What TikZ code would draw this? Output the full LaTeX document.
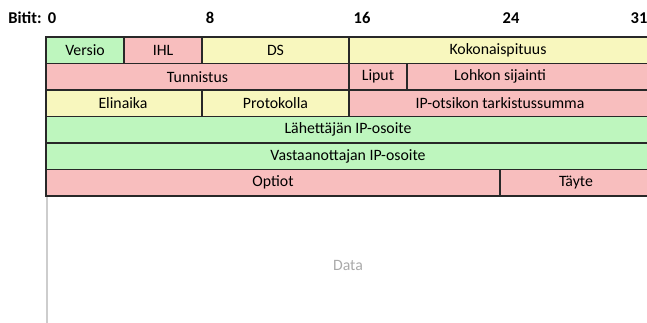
\documentclass[tikz,border=0pt]{standalone}
\usepackage{fontspec}
\setmainfont{Carlito}
\definecolor{fgreen}{RGB}{190,246,190}
\definecolor{fpink}{RGB}{248,190,190}
\definecolor{fyellow}{RGB}{248,247,190}
\definecolor{edge}{RGB}{40,40,40}
\definecolor{datagray}{RGB}{170,170,170}
\definecolor{linegray}{RGB}{205,205,205}
\tikzset{
  fieldbox/.style={draw=edge, line width=1.4pt},
  fieldtext/.style={font=\fontsize{15.8}{18}\selectfont, inner sep=0pt, anchor=center},
  bitlabel/.style={font=\bfseries\fontsize{16.5}{19}\selectfont, inner sep=0pt, anchor=center},
}
\begin{document}
\begin{tikzpicture}[x=1pt,y=-1pt]
\useasboundingbox (0,0) rectangle (647,323);
\begin{scope}
\clip (0,0) rectangle (647,323);
% data area
\draw[linegray, line width=2pt] (46.5,196) -- (46.5,330);
\node[fieldtext, text=datagray] (data) at (348,265) {Data};
% row 1
\draw[fieldbox, fill=fgreen] (46,37) rectangle (124,63.5);
\draw[fieldbox, fill=fpink] (124,37) rectangle (202,63.5);
\draw[fieldbox, fill=fyellow] (202,37) rectangle (349,63.5);
\draw[fieldbox, fill=fyellow] (349,37) rectangle (660,63.5);
% row 2
\draw[fieldbox, fill=fpink] (46,63.5) rectangle (349,90);
\draw[fieldbox, fill=fpink] (349,63.5) rectangle (407,90);
\draw[fieldbox, fill=fpink] (407,63.5) rectangle (660,90);
% row 3
\draw[fieldbox, fill=fyellow] (46,90) rectangle (202,116.5);
\draw[fieldbox, fill=fyellow] (202,90) rectangle (349,116.5);
\draw[fieldbox, fill=fpink] (349,90) rectangle (660,116.5);
% row 4,5
\draw[fieldbox, fill=fgreen] (46,116.5) rectangle (660,143);
\draw[fieldbox, fill=fgreen] (46,143) rectangle (660,169.5);
% row 6
\draw[fieldbox, fill=fpink] (46,169.5) rectangle (500,196);
\draw[fieldbox, fill=fpink] (500,169.5) rectangle (660,196);
\end{scope}
% texts
\node[fieldtext] (versio) at (85,50.25) {Versio};
\node[fieldtext] (ihl) at (163,50.25) {IHL};
\node[fieldtext] (ds) at (275.5,50.25) {DS};
\node[fieldtext] (koko) at (498,50.25) {Kokonaispituus};
\node[fieldtext] (tunn) at (197.5,76.75) {Tunnistus};
\node[fieldtext] (liput) at (378,76.75) {Liput};
\node[fieldtext] (lohko) at (500,76.75) {Lohkon sijainti};
\node[fieldtext] (elin) at (123,103.25) {Elinaika};
\node[fieldtext] (prot) at (275.5,103.25) {Protokolla};
\node[fieldtext] (tark) at (500,103.25) {IP-otsikon tarkistussumma};
\node[fieldtext] (lah) at (348,129.75) {Lähettäjän IP-osoite};
\node[fieldtext] (vast) at (348,156.25) {Vastaanottajan IP-osoite};
\node[fieldtext] (opt) at (273,182.75) {Optiot};
\node[fieldtext] (tayte) at (576,182.75) {Täyte};
% bit labels
\node[bitlabel] (bitit) at (25,18) {Bitit:};
\node[bitlabel] (b0) at (52,18) {0};
\node[bitlabel] (b8) at (210,18) {8};
\node[bitlabel] (b16) at (362,18) {16};
\node[bitlabel] (b24) at (511,18) {24};
\node[bitlabel] (b31) at (639,18) {31};
\end{tikzpicture}
\end{document}
